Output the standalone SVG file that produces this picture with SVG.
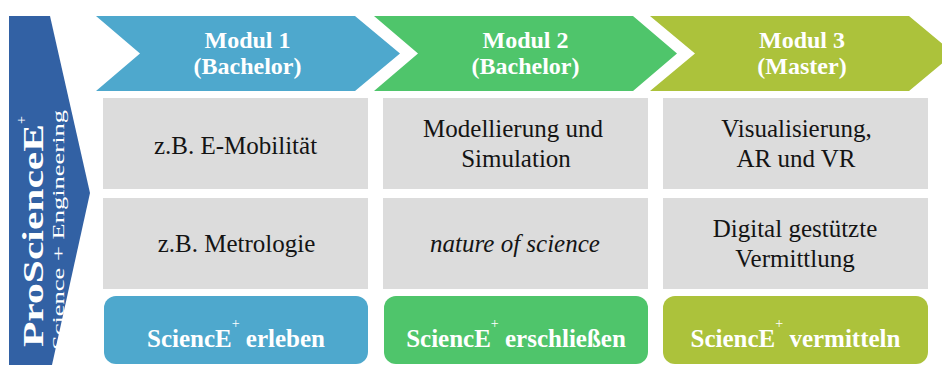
<svg xmlns="http://www.w3.org/2000/svg" width="942" height="365" viewBox="0 0 942 365" font-family="Liberation Serif, serif">
  <style>
    .c1 { fill: #4ea8cd; }
    .c2 { fill: #4fc56b; }
    .c3 { fill: #acc23b; }
    .side { fill: #3261a4; }
    .cell { fill: #dcdcdc; }
    .head { font-weight: bold; font-size: 24px; fill: #ffffff; text-anchor: middle; }
    .body { font-size: 25px; fill: #141414; text-anchor: middle; }
    .goal { font-weight: bold; font-size: 25px; fill: #ffffff; text-anchor: middle; }
    .sup { font-weight: normal; font-size: 14px; }
    .rot { fill: #ffffff; }
  </style>

  <!-- vertical programme banner -->
  <g id="programme">
    <polygon class="side" points="9,16 50,16 90,193 52,365 9,365"/>
    <text class="rot" transform="translate(43,347) rotate(-90)" font-size="30" font-weight="bold" textLength="223" lengthAdjust="spacingAndGlyphs">ProScienceE</text>
    <text class="rot" transform="translate(43,347) rotate(-90)" x="227" y="-17" font-size="14" text-anchor="middle">+</text>
    <text class="rot" transform="translate(64,350) rotate(-90)" font-size="16" textLength="240" lengthAdjust="spacingAndGlyphs">Science + Engineering</text>
  </g>

  <!-- module headers -->
  <g id="modul1">
    <polygon class="c1" points="96,16 355,16 400,53.5 355,91 96,91 140,53.5"/>
    <text class="head" x="247.5" y="48">Modul 1</text>
    <text class="head" x="247.5" y="74">(Bachelor)</text>
  </g>
  <g id="modul2">
    <polygon class="c2" points="374,16 633,16 677,53.5 633,91 374,91 418,53.5"/>
    <text class="head" x="525.5" y="48">Modul 2</text>
    <text class="head" x="525.5" y="74">(Bachelor)</text>
  </g>
  <g id="modul3">
    <polygon class="c3" points="650,16 909,16 954,53.5 909,91 650,91 695,53.5"/>
    <text class="head" x="802" y="48">Modul 3</text>
    <text class="head" x="802" y="74">(Master)</text>
  </g>

  <!-- topic cells, row 1 -->
  <g id="emobilitaet">
    <rect class="cell" x="103" y="98" width="265" height="91"/>
    <text class="body" x="235.5" y="154">z.B. E-Mobilität</text>
  </g>
  <g id="modellierung">
    <rect class="cell" x="383" y="98" width="265" height="91"/>
    <text class="body" x="513" y="137">Modellierung und</text>
    <text class="body" x="516" y="167">Simulation</text>
  </g>
  <g id="visualisierung">
    <rect class="cell" x="663" y="98" width="265" height="91"/>
    <text class="body" x="796.5" y="137">Visualisierung,</text>
    <text class="body" x="796" y="167">AR und VR</text>
  </g>

  <!-- topic cells, row 2 -->
  <g id="metrologie">
    <rect class="cell" x="103" y="198" width="265" height="91"/>
    <text class="body" x="236.5" y="252">z.B. Metrologie</text>
  </g>
  <g id="nature-of-science">
    <rect class="cell" x="383" y="198" width="265" height="91"/>
    <text class="body" x="515" y="252" font-style="italic">nature of science</text>
  </g>
  <g id="vermittlung">
    <rect class="cell" x="663" y="198" width="265" height="91"/>
    <text class="body" x="795" y="237">Digital gestützte</text>
    <text class="body" x="795" y="267">Vermittlung</text>
  </g>

  <!-- learning goals -->
  <g id="erleben">
    <rect class="c1" x="104" y="296" width="264" height="68" rx="12"/>
    <text class="goal" x="236" y="347">SciencE<tspan class="sup" dy="-19">+</tspan><tspan dy="19"> erleben</tspan></text>
  </g>
  <g id="erschliessen">
    <rect class="c2" x="384" y="296" width="264" height="68" rx="12"/>
    <text class="goal" x="516" y="347">SciencE<tspan class="sup" dy="-19">+</tspan><tspan dy="19"> erschließen</tspan></text>
  </g>
  <g id="vermitteln">
    <rect class="c3" x="663" y="296" width="265" height="68" rx="12"/>
    <text class="goal" x="795.5" y="347">SciencE<tspan class="sup" dy="-19">+</tspan><tspan dy="19"> vermitteln</tspan></text>
  </g>
</svg>
